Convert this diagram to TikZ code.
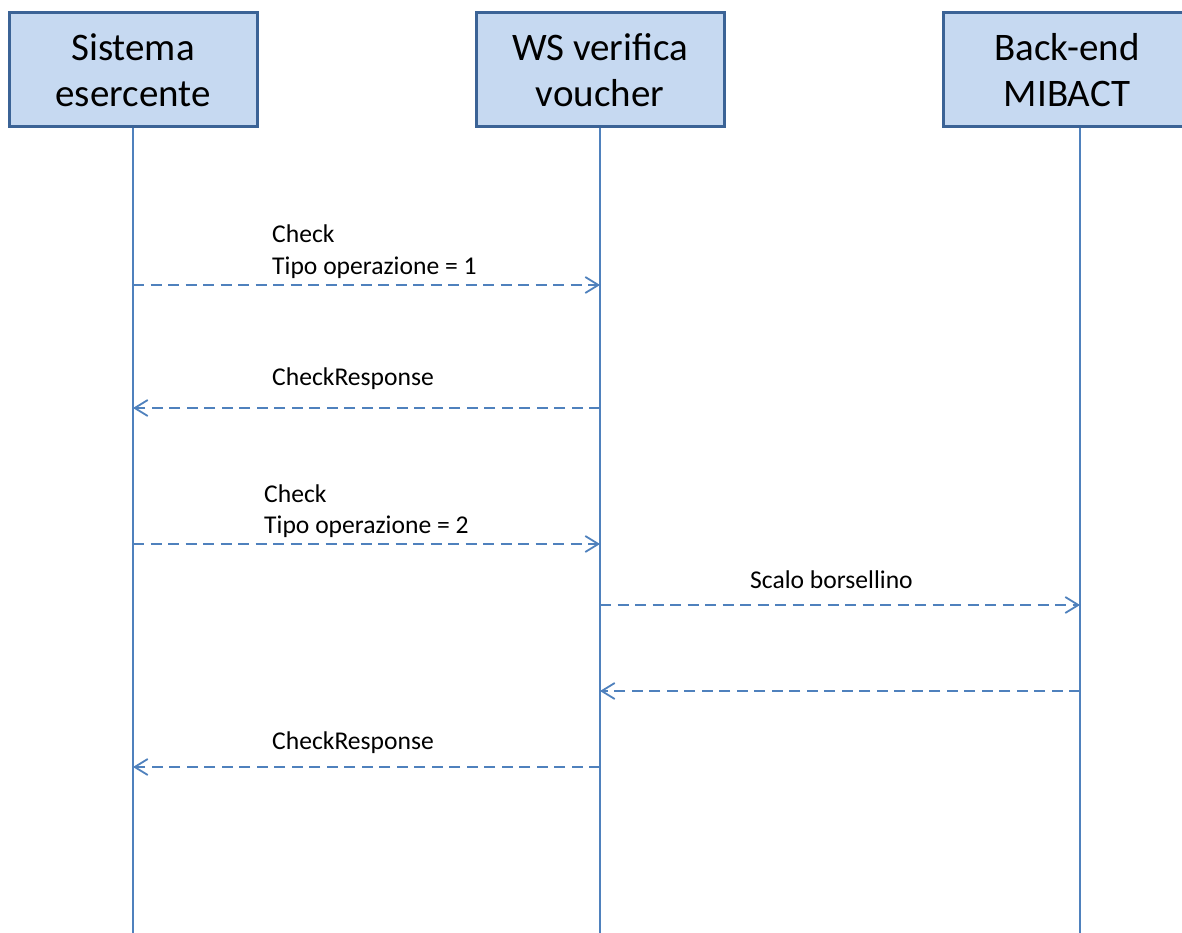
\documentclass[tikz,border=0pt]{standalone}
\usepackage{fontspec}
\setmainfont{Carlito}
\usetikzlibrary{arrows.meta}
\definecolor{boxfill}{HTML}{C6D9F1}
\definecolor{boxline}{HTML}{3B6396}
\definecolor{lifeblue}{HTML}{4F81BD}
\begin{document}
\begin{tikzpicture}[x=1pt,y=-1pt,
  actor/.style={draw=boxline, fill=boxfill, line width=3pt, minimum width=248pt, minimum height=114pt, inner sep=0pt, align=center, font=\fontsize{39}{46}\selectfont},
  lifeline/.style={draw=lifeblue, line width=2pt},
  msg/.style={draw=lifeblue, line width=1.8pt, dash pattern=on 11pt off 6.5pt, -{Straight Barb[length=13pt,width=16pt,line width=1.8pt]}},
  lbl/.style={font=\fontsize{25.6}{30}\selectfont, anchor=base west, inner sep=0pt}]
\useasboundingbox (0,0) rectangle (1182,933);
\clip (0,0) rectangle (1182,933);
% lifelines
\coordinate (Abot) at (133,933);
\coordinate (Bbot) at (600,933);
\coordinate (Cbot) at (1080,933);
\coordinate (Ctop) at (1080,127);
\draw[lifeline] (133,127) coordinate (Atop) -- (Abot);
\draw[lifeline] (600,127) coordinate (Btop) -- (Bbot);
\draw[lifeline] (Ctop) -- (Cbot);
% actors
\node[actor] (A) at (133,70) {Sistema\\esercente};
\node[actor] (B) at (600,70) {WS verifica\\voucher};
\node[actor] (C) at (1067,70) {Back-end\\MIBACT};
% message end points
\coordinate (a1) at (133,285); \coordinate (b1) at (600,285);
\coordinate (a2) at (133,408); \coordinate (b2) at (600,408);
\coordinate (a3) at (133,544); \coordinate (b3) at (600,544);
\coordinate (b4) at (600,605); \coordinate (c4) at (1080,605);
\coordinate (b5) at (600,691); \coordinate (c5) at (1080,691);
\coordinate (a6) at (133,767); \coordinate (b6) at (600,767);
% messages
\draw[msg] (a1) -- (b1);
\draw[msg] (b2) -- (a2);
\draw[msg] (a3) -- (b3);
\draw[msg] (b4) -- (c4);
\draw[msg] (c5) -- (b5);
\draw[msg] (b6) -- (a6);
% labels
\node[lbl] (l1a) at (272,243) {Check};
\node[lbl] (l1b) at (272,274) {Tipo operazione = 1};
\node[lbl] (l2) at (272,385) {CheckResponse};
\node[lbl] (l3a) at (264,502) {Check};
\node[lbl] (l3b) at (264,533) {Tipo operazione = 2};
\node[lbl] (l4) at (750,588) {Scalo borsellino};
\node[lbl] (l6) at (272,749) {CheckResponse};
\end{tikzpicture}
\end{document}
